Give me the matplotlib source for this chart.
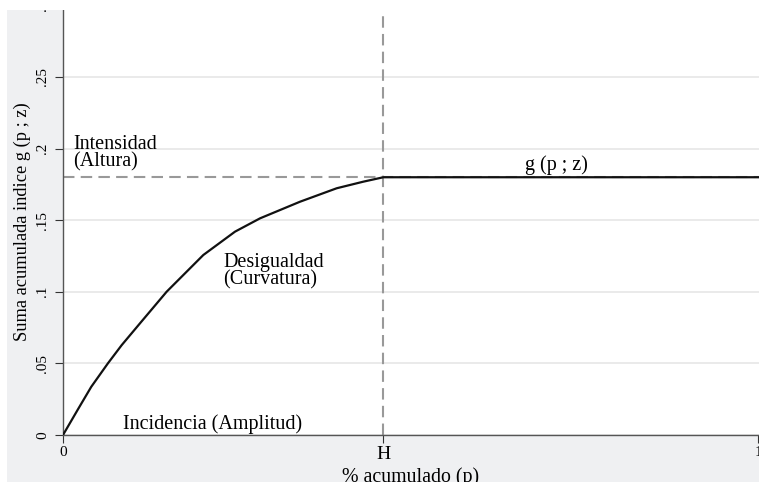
import numpy as np
import matplotlib.pyplot as plt
from matplotlib.patches import Rectangle

plt.rcParams['font.family'] = ['Liberation Serif', 'DejaVu Serif']

# TIP curve
p = [0, 0.0216, 0.0407, 0.0647, 0.0845, 0.1127, 0.1492, 0.2019, 0.2475,
     0.2835, 0.341, 0.3938, 0.4321, 0.461, 1.0]
g = [0, 0.018, 0.0337, 0.0501, 0.0628, 0.0791, 0.1001, 0.1257, 0.142,
     0.1513, 0.1629, 0.1723, 0.1769, 0.18, 0.18]
H = 0.461
intensidad = 0.18
yticks = [0, 0.05, 0.1, 0.15, 0.2, 0.25, 0.3]
ylabels = ['0', '.05', '.1', '.15', '.2', '.25', '.3']

W, Hpx = 759, 482
fig = plt.figure(figsize=(W / 100, Hpx / 100), dpi=100, facecolor='white')
fig.patches.append(Rectangle((7 / W, 0), 1, (Hpx - 10) / Hpx, transform=fig.transFigure,
                             facecolor='#eff0f2', edgecolor='none', zorder=-10))

x0, x1 = 63, 758
ybot = 435
ax = fig.add_axes([x0 / W, (Hpx - ybot) / Hpx, (W - x0) / W, ybot / Hpx])
ax.set_facecolor('white')
ax.set_xlim(0, (W - x0) / (x1 - x0))
ax.set_ylim(0, ybot / 1432)

ax.set_yticks(yticks)
ax.set_yticklabels(ylabels, rotation=90, va='center', fontsize=11)
ax.set_xticks([0, H, 1])
ax.set_xticklabels(['0', 'H', '1'])
for lab, fs in zip(ax.get_xticklabels(), [11, 14, 11]):
    lab.set_fontsize(fs)
ax.tick_params(length=6, width=0.8, color='#333333', pad=4)
ax.tick_params(axis='x', pad=2)
ax.grid(axis='y', color='#e6e6e6', linewidth=1.2)
ax.set_axisbelow(True)

for s in ['top', 'right']:
    ax.spines[s].set_visible(False)
for s in ['left', 'bottom']:
    ax.spines[s].set_color('#555555')
    ax.spines[s].set_linewidth(1)

ax.axhline(intensidad, color='#999999', linestyle=(0, (5.5, 3)), linewidth=1.5, zorder=2)
ax.axvline(H, color='#999999', linestyle=(0, (5.5, 3)), linewidth=1.5, zorder=2)
ax.plot(p, g, color='#111111', linewidth=1.6, zorder=3)

fs = 14.5
ax.text(0.0144, 0.2095, 'Intensidad\n(Altura)', fontsize=fs, va='top', ha='left', linespacing=0.85)
ax.text(0.6647, 0.1955, 'g (p ; z)', fontsize=fs, va='top', ha='left')
ax.text(0.2302, 0.1271, 'Desigualdad\n(Curvatura)', fontsize=fs, va='top', ha='left', linespacing=0.85)
ax.text(0.0863, 0.0147, 'Incidencia (Amplitud)', fontsize=fs, va='top', ha='left')

ax.set_xlabel('% acumulado (p)', fontsize=14.3)
ax.set_ylabel('Suma acumulada indice g (p ; z)', fontsize=13.2)
ax.xaxis.set_label_coords(0.5, -0.074)
ax.yaxis.set_label_coords(-(63 - 22) / (W - x0), 0.49)
ax.yaxis.label.set_va('center')

# the reference is cropped: white band along the top edge
fig.add_artist(Rectangle((0, (Hpx - 10) / Hpx), 1, 10 / Hpx, transform=fig.transFigure,
                         facecolor='white', edgecolor='none', zorder=100))

fig.savefig('out.png', dpi=100, facecolor=fig.get_facecolor())
